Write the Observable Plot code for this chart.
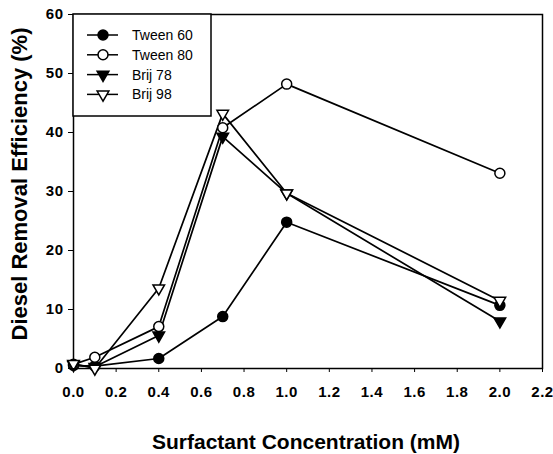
<!DOCTYPE html>
<html>
<head>
<meta charset="utf-8">
<script src="https://cdn.jsdelivr.net/npm/d3@7"></script>
<script src="https://cdn.jsdelivr.net/npm/@observablehq/plot@0.6"></script>
<style>
  body { margin: 0; background: #fff; }
  #chart { position: relative; width: 553px; height: 454px; }
  svg { font-family: "Liberation Sans", Arial, sans-serif; }
</style>
</head>
<body>
<div id="chart"></div>
<script>
const conc = [0.0, 0.1, 0.4, 0.7, 1.0, 2.0];
const tween60 = [0.5, 0.4, 1.7, 8.8, 24.8, 10.7];
const tween80 = [0.7, 1.9, 7.1, 40.8, 48.2, 33.1];
const brij78  = [0.6, 0.3, 5.6, 39.3, 29.7, 8.0];
const brij98  = [0.8, 0.0, 13.6, 43.2, 29.7, 11.5];
const seriesNames = ["Tween 60", "Tween 80", "Brij 78", "Brij 98"];
const seriesValues = [tween60, tween80, brij78, brij98];
const seriesSymbol = ["circle", "circle", "triangle", "triangle"];
const seriesFill = ["black", "white", "black", "white"];
const seriesRotate = [0, 0, 180, 180];
const xTicks = [0, 0.2, 0.4, 0.6, 0.8, 1.0, 1.2, 1.4, 1.6, 1.8, 2.0, 2.2];
const yTicks = [0, 10, 20, 30, 40, 50, 60];

const rows = [];
seriesNames.forEach((s, i) => conc.forEach((c, j) => rows.push({series: s, x: c, y: seriesValues[i][j], idx: i})));

const marks = [Plot.frame({stroke: "black", strokeWidth: 1.5})];
seriesNames.forEach((s, i) => {
  const d = rows.filter(r => r.series === s);
  marks.push(Plot.line(d, {x: "x", y: "y", stroke: "black", strokeWidth: 1.7}));
});
seriesNames.forEach((s, i) => {
  const d = rows.filter(r => r.series === s);
  marks.push(Plot.dot(d, {x: "x", y: "y", symbol: () => seriesSymbol[i], r: seriesSymbol[i] === "circle" ? 5 : 4.3,
    fill: seriesFill[i], stroke: "black", strokeWidth: 1.5, rotate: seriesRotate[i]}));
});
marks.push(Plot.axisX({ticks: xTicks, tickFormat: d3.format(".1f"), tickSize: 4, tickPadding: 14, fontSize: 15, fontWeight: "bold", label: null}));
marks.push(Plot.axisY({ticks: yTicks, tickSize: 5, tickPadding: 5, fontSize: 15, fontWeight: "bold", label: null}));

const plot = Plot.plot({
  width: 553, height: 454,
  marginLeft: 73, marginRight: 11, marginTop: 14, marginBottom: 86,
  x: {domain: [0, 2.2]},
  y: {domain: [0, 60]},
  symbol: {type: "identity"},
  style: {fontFamily: "'Liberation Sans', Arial, sans-serif", color: "black", background: "white"},
  marks
});
document.getElementById("chart").appendChild(plot);

const svg = d3.select(plot);
svg.selectAll("g[aria-label$='tick label']")
  .attr("font-size", 15).attr("font-weight", "bold").attr("letter-spacing", "0.5px")
  .style("font-size", "15px").style("font-weight", "bold");
// axis titles
svg.append("text").attr("x", 306).attr("y", 449).attr("text-anchor", "middle")
  .attr("font-size", 21).attr("font-weight", "bold").attr("fill", "black")
  .text("Surfactant Concentration (mM)");
svg.append("text").attr("transform", "translate(27,184) rotate(-90)").attr("text-anchor", "middle")
  .attr("font-size", 22).attr("font-weight", "bold").attr("fill", "black")
  .text("Diesel Removal Efficiency (%)");

// legend
const lg = svg.append("g").attr("transform", "translate(73,14)");
lg.append("rect").attr("x", 0).attr("y", 0).attr("width", 138).attr("height", 102)
  .attr("fill", "white").attr("stroke", "black").attr("stroke-width", 1.5);
seriesNames.forEach((s, i) => {
  const yy = 21 + i * 19.8;
  const g = lg.append("g").attr("transform", `translate(0,${yy})`);
  g.append("line").attr("x1", 14).attr("x2", 45).attr("y1", 0).attr("y2", 0).attr("stroke", "black").attr("stroke-width", 1.5);
  const sym = d3.symbol(seriesSymbol[i] === "circle" ? d3.symbolCircle : d3.symbolTriangle, seriesSymbol[i] === "circle" ? 78 : 60);
  g.append("path").attr("d", sym()).attr("transform", `translate(30,0) rotate(${seriesRotate[i]})`)
    .attr("fill", seriesFill[i]).attr("stroke", "black").attr("stroke-width", 1.5);
  g.append("text").attr("x", 59).attr("y", 0).attr("dy", "0.35em").attr("text-anchor", "start")
    .attr("font-size", 14).attr("fill", "black").text(s);
});
</script>
</body>
</html>
